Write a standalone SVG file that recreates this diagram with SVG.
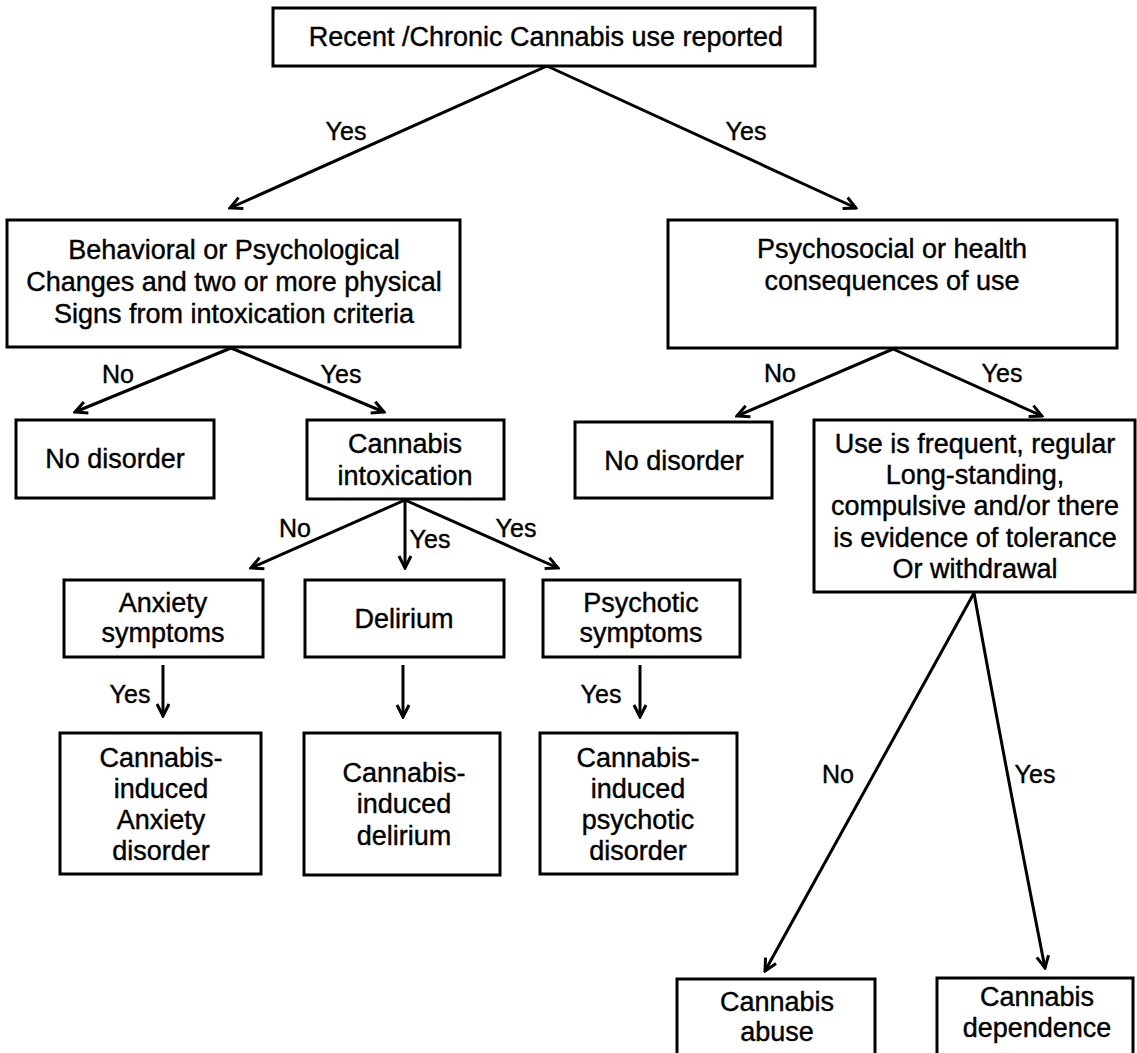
<svg xmlns="http://www.w3.org/2000/svg" width="1137" height="1053" viewBox="0 0 1137 1053">
<style>
.box{fill:#fff;stroke:#000;stroke-width:3}
.t{font-family:"Liberation Sans",Arial,Helvetica,sans-serif;font-size:27px;text-anchor:middle;fill:#000;stroke:#000;stroke-width:0.4}
.lbl{font-family:"Liberation Sans",Arial,Helvetica,sans-serif;font-size:25px;text-anchor:middle;fill:#000;stroke:#000;stroke-width:0.4}
.edge{stroke:#000;stroke-width:3;fill:none;marker-end:url(#arr)}
</style>
<defs>
<marker id="arr" viewBox="0 0 16 16" refX="14" refY="8" markerWidth="16" markerHeight="16" orient="auto" markerUnits="userSpaceOnUse">
<path d="M2,2 L14,8 L2,14" fill="none" stroke="#000" stroke-width="3" stroke-linejoin="miter"/>
</marker>
</defs>
<rect width="1137" height="1053" fill="#fff"/>
<g id="connectors">
<path class="edge" d="M547,66 L230,208"/>
<path class="edge" d="M547,66 L856,208"/>
<path class="edge" d="M231,348 L75,412"/>
<path class="edge" d="M231,348 L384,412"/>
<path class="edge" d="M893,349 L737,416"/>
<path class="edge" d="M893,349 L1042,416"/>
<path class="edge" d="M405,500 L251,568"/>
<path class="edge" d="M405,500 L405,568"/>
<path class="edge" d="M405,500 L558,568"/>
<path class="edge" d="M163,665 L163,716"/>
<path class="edge" d="M403,665 L403,717"/>
<path class="edge" d="M640,665 L640,717"/>
<path class="edge" d="M974,593 L765,971"/>
<path class="edge" d="M974,593 Q1006,770 1045,968"/>
<text class="lbl" x="346" y="140">Yes</text>
<text class="lbl" x="746" y="140">Yes</text>
<text class="lbl" x="118" y="383">No</text>
<text class="lbl" x="341" y="383">Yes</text>
<text class="lbl" x="780" y="382">No</text>
<text class="lbl" x="1002" y="382">Yes</text>
<text class="lbl" x="295" y="537">No</text>
<text class="lbl" x="430" y="548">Yes</text>
<text class="lbl" x="516" y="537">Yes</text>
<text class="lbl" x="130" y="703">Yes</text>
<text class="lbl" x="601" y="703">Yes</text>
<text class="lbl" x="838" y="783">No</text>
<text class="lbl" x="1035" y="783">Yes</text>
</g>
<g id="n-root">
<rect class="box" x="273" y="8" width="542" height="58"/>
<text class="t" x="546" y="46">Recent /Chronic Cannabis use reported</text>
</g>
<g id="n-behavioral">
<rect class="box" x="7" y="220" width="453" height="127"/>
<text class="t" x="234" y="259">Behavioral or Psychological</text>
<text class="t" x="234" y="291">Changes and two or more physical</text>
<text class="t" x="234" y="323">Signs from intoxication criteria</text>
</g>
<g id="n-psychosocial">
<rect class="box" x="668" y="220" width="449" height="128"/>
<text class="t" x="892" y="258">Psychosocial or health</text>
<text class="t" x="892" y="290">consequences of use</text>
</g>
<g id="n-nodisorder-left">
<rect class="box" x="16" y="420" width="198" height="78"/>
<text class="t" x="115" y="468">No disorder</text>
</g>
<g id="n-intoxication">
<rect class="box" x="307" y="420" width="197" height="79"/>
<text class="t" x="405" y="453">Cannabis</text>
<text class="t" x="405" y="485">intoxication</text>
</g>
<g id="n-nodisorder-right">
<rect class="box" x="575" y="422" width="197" height="76"/>
<text class="t" x="674" y="470">No disorder</text>
</g>
<g id="n-use">
<rect class="box" x="814" y="420" width="321" height="172"/>
<text class="t" x="975" y="453">Use is frequent, regular</text>
<text class="t" x="975" y="484">Long-standing,</text>
<text class="t" x="975" y="515">compulsive and/or there</text>
<text class="t" x="975" y="547">is evidence of tolerance</text>
<text class="t" x="975" y="578">Or withdrawal</text>
</g>
<g id="n-anxiety">
<rect class="box" x="64" y="580" width="199" height="77"/>
<text class="t" x="163" y="612">Anxiety</text>
<text class="t" x="163" y="642">symptoms</text>
</g>
<g id="n-delirium">
<rect class="box" x="305" y="580" width="199" height="77"/>
<text class="t" x="404" y="628">Delirium</text>
</g>
<g id="n-psychotic">
<rect class="box" x="543" y="580" width="197" height="77"/>
<text class="t" x="641" y="612">Psychotic</text>
<text class="t" x="641" y="642">symptoms</text>
</g>
<g id="n-anxiety-disorder">
<rect class="box" x="60" y="733" width="201" height="141"/>
<text class="t" x="161" y="767">Cannabis-</text>
<text class="t" x="161" y="798">induced</text>
<text class="t" x="161" y="829">Anxiety</text>
<text class="t" x="161" y="860">disorder</text>
</g>
<g id="n-delirium-disorder">
<rect class="box" x="304" y="733" width="196" height="142"/>
<text class="t" x="404" y="782">Cannabis-</text>
<text class="t" x="404" y="813">induced</text>
<text class="t" x="404" y="845">delirium</text>
</g>
<g id="n-psychotic-disorder">
<rect class="box" x="540" y="733" width="197" height="141"/>
<text class="t" x="638" y="767">Cannabis-</text>
<text class="t" x="638" y="798">induced</text>
<text class="t" x="638" y="829">psychotic</text>
<text class="t" x="638" y="860">disorder</text>
</g>
<g id="n-abuse">
<rect class="box" x="677" y="979" width="198" height="90"/>
<text class="t" x="777" y="1011">Cannabis</text>
<text class="t" x="777" y="1041">abuse</text>
</g>
<g id="n-dependence">
<rect class="box" x="937" y="978" width="196" height="90"/>
<text class="t" x="1037" y="1006">Cannabis</text>
<text class="t" x="1037" y="1037">dependence</text>
</g>
</svg>
